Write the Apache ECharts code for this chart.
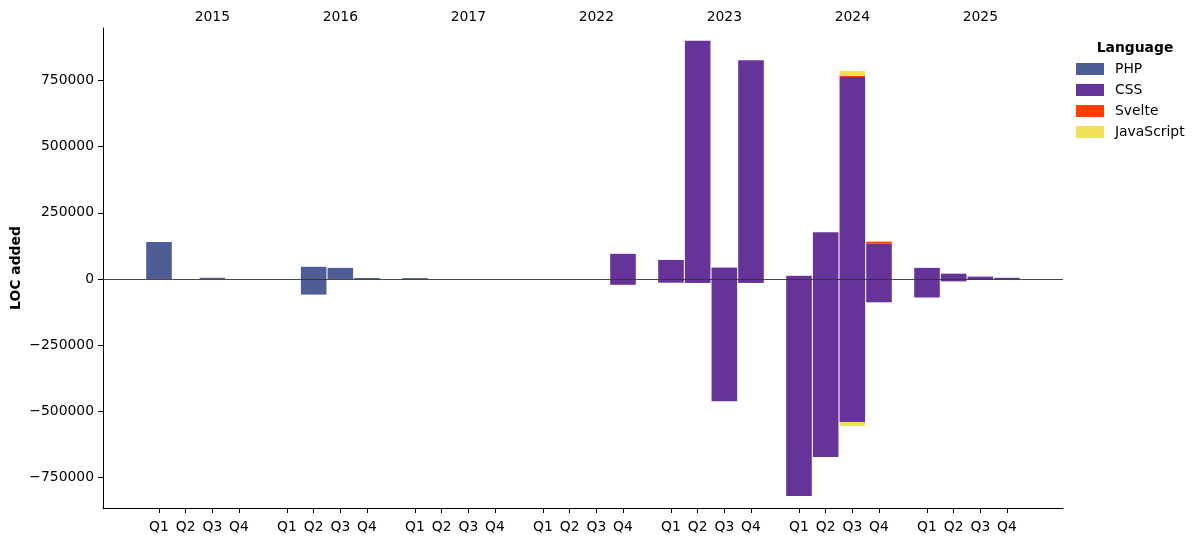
<!DOCTYPE html>
<html>
<head>
<meta charset="utf-8">
<script src="https://cdn.jsdelivr.net/npm/echarts@6/dist/echarts.min.js"></script>
<style>
html,body{margin:0;padding:0;background:#fff;}
#chart{width:1200px;height:542px;}
</style>
</head>
<body>
<div id="chart"></div>
<script>
const years = ['2015','2016','2017','2022','2023','2024','2025'];
const quarters = ['Q1','Q2','Q3','Q4'];
const yTicks = [-750000,-500000,-250000,0,250000,500000,750000];
// values per quarter, 7 years x 4 quarters
const phpAdded = [140000,null,4500,null, null,46000,42000,4000, 3500,null,null,null, null,null,null,null, null,null,null,null, null,null,null,null, null,null,null,null];
const phpRemoved = [null,null,null,null, null,-59000,null,null, null,null,null,null, null,null,null,null, null,null,null,null, null,null,null,null, null,null,null,null];
const cssAdded = [null,null,null,null, null,null,null,null, null,null,null,null, null,null,null,95000, 72000,900000,43000,826000, 12000,177000,763000,133000, 42000,20000,9000,4500];
const cssRemoved = [null,null,null,null, null,null,null,null, null,null,null,null, null,null,null,-22000, -14000,-15000,-462000,-15000, -820000,-672000,-540000,-88000, -70000,-9000,-3000,-1500];
const svelteAdded = [null,null,null,null, null,null,null,null, null,null,null,null, null,null,null,null, null,null,null,null, null,null,5000,8000, null,null,null,null];
const jsAdded = [null,null,null,null, null,null,null,null, null,null,null,null, null,null,null,null, null,null,null,null, null,null,18000,null, null,null,null,null];
const jsRemoved = [null,null,null,null, null,null,null,null, null,null,null,null, null,null,null,null, null,null,null,null, null,null,-15000,null, null,null,null,null];

const colors = {PHP:'#4F5D95', CSS:'#663399', Svelte:'#ff3e00', JavaScript:'#f1e05a'};

// fine category grid: 5 steps per quarter slot, a year group spans 24 steps (4 slots + gap)
const STEP_PER_Q = 5, STEP_PER_YEAR = 24, K_MIN = -10, K_MAX = 169;
const cats = [];
for (let k = K_MIN; k <= K_MAX; k++) cats.push('k' + k);
const quarterAt = {}, yearAt = {}, slotIndex = [];
years.forEach((y, yi) => {
  quarters.forEach((q, qi) => {
    const idx = yi * STEP_PER_YEAR + qi * STEP_PER_Q - K_MIN;
    quarterAt[idx] = q;
    slotIndex.push(idx);
  });
  yearAt[yi * STEP_PER_YEAR + 2 * STEP_PER_Q - K_MIN] = y;
});
function spread(arr){
  const out = new Array(cats.length).fill(null);
  arr.forEach((v, i) => { out[slotIndex[i]] = v; });
  return out;
}

const font = 'DejaVu Sans';
const FS = 13.9;
function mk(name, arr, extra){
  return Object.assign({
    name: name, type: 'bar', stack: 'loc',
    barWidth: 25.6, data: spread(arr),
    itemStyle: {color: colors[name]},
    emphasis: {disabled: true}
  }, extra || {});
}

const chart = echarts.init(document.getElementById('chart'), null, {renderer:'canvas'});
chart.setOption({
  animation: false,
  backgroundColor: '#fff',
  textStyle: {fontFamily: font},
  grid: {left: 103, right: 137, top: 28, bottom: 34, containLabel: false, outerBoundsMode: 'none'},
  title: {
    text: 'Language', left: 1130, top: 36, textAlign: 'center',
    textStyle: {fontFamily: font, fontSize: FS, fontWeight: 'bold', color: '#000'}
  },
  legend: {
    orient: 'vertical', left: 1076, top: 62, padding: 0,
    itemWidth: 28, itemHeight: 12, itemGap: 7,
    textStyle: {fontFamily: font, fontSize: FS, color: '#000', padding: [0, 0, 0, 6]},
    data: [
      {name:'PHP', icon:'rect'}, {name:'CSS', icon:'rect'},
      {name:'Svelte', icon:'rect'}, {name:'JavaScript', icon:'rect'}
    ]
  },
  xAxis: [{
    type: 'category', position: 'bottom', data: cats, boundaryGap: true,
    axisLine: {show: true, onZero: false, lineStyle: {color: '#000', width: 1}},
    axisTick: {show: true, length: 5, alignWithLabel: true, lineStyle: {color: '#000'},
      interval: (i) => quarterAt[i] !== undefined},
    axisLabel: {show: true, margin: 12, fontSize: FS, color: '#000', fontFamily: font,
      interval: (i) => quarterAt[i] !== undefined,
      formatter: (v, i) => quarterAt[i] || ''},
    splitLine: {show: false}
  }, {
    type: 'category', position: 'top', data: cats, boundaryGap: true,
    axisLine: {show: false, onZero: false}, axisTick: {show: false},
    axisLabel: {show: true, margin: 4, fontSize: FS, color: '#000', fontFamily: font,
      interval: (i) => yearAt[i] !== undefined,
      formatter: (v, i) => yearAt[i] || ''},
    splitLine: {show: false}
  }],
  yAxis: {
    type: 'value', min: -865000, max: 948000,
    name: 'LOC added', nameLocation: 'middle', nameGap: 80, nameMoveOverlap: false,
    nameTextStyle: {fontFamily: font, fontSize: FS, fontWeight: 'bold', color: '#000'},
    axisLine: {show: true, onZero: false, lineStyle: {color: '#000', width: 1}},
    axisTick: {show: true, length: 5, lineStyle: {color: '#000'}, customValues: yTicks},
    axisLabel: {fontSize: FS, color: '#000', margin: 9, fontFamily: font, customValues: yTicks,
      formatter: v => String(v).replace('-', '\u2212')},
    splitLine: {show: false}
  },
  series: [
    mk('PHP', phpAdded, {markLine: {
      silent: true, symbol: ['none','none'], label: {show: false},
      lineStyle: {color: '#333', width: 0.9, type: 'solid'},
      data: [{yAxis: 0}], z: 10
    }}),
    mk('PHP', phpRemoved),
    mk('CSS', cssAdded),
    mk('CSS', cssRemoved),
    mk('Svelte', svelteAdded),
    mk('JavaScript', jsAdded),
    mk('JavaScript', jsRemoved)
  ]
});
</script>
</body>
</html>
